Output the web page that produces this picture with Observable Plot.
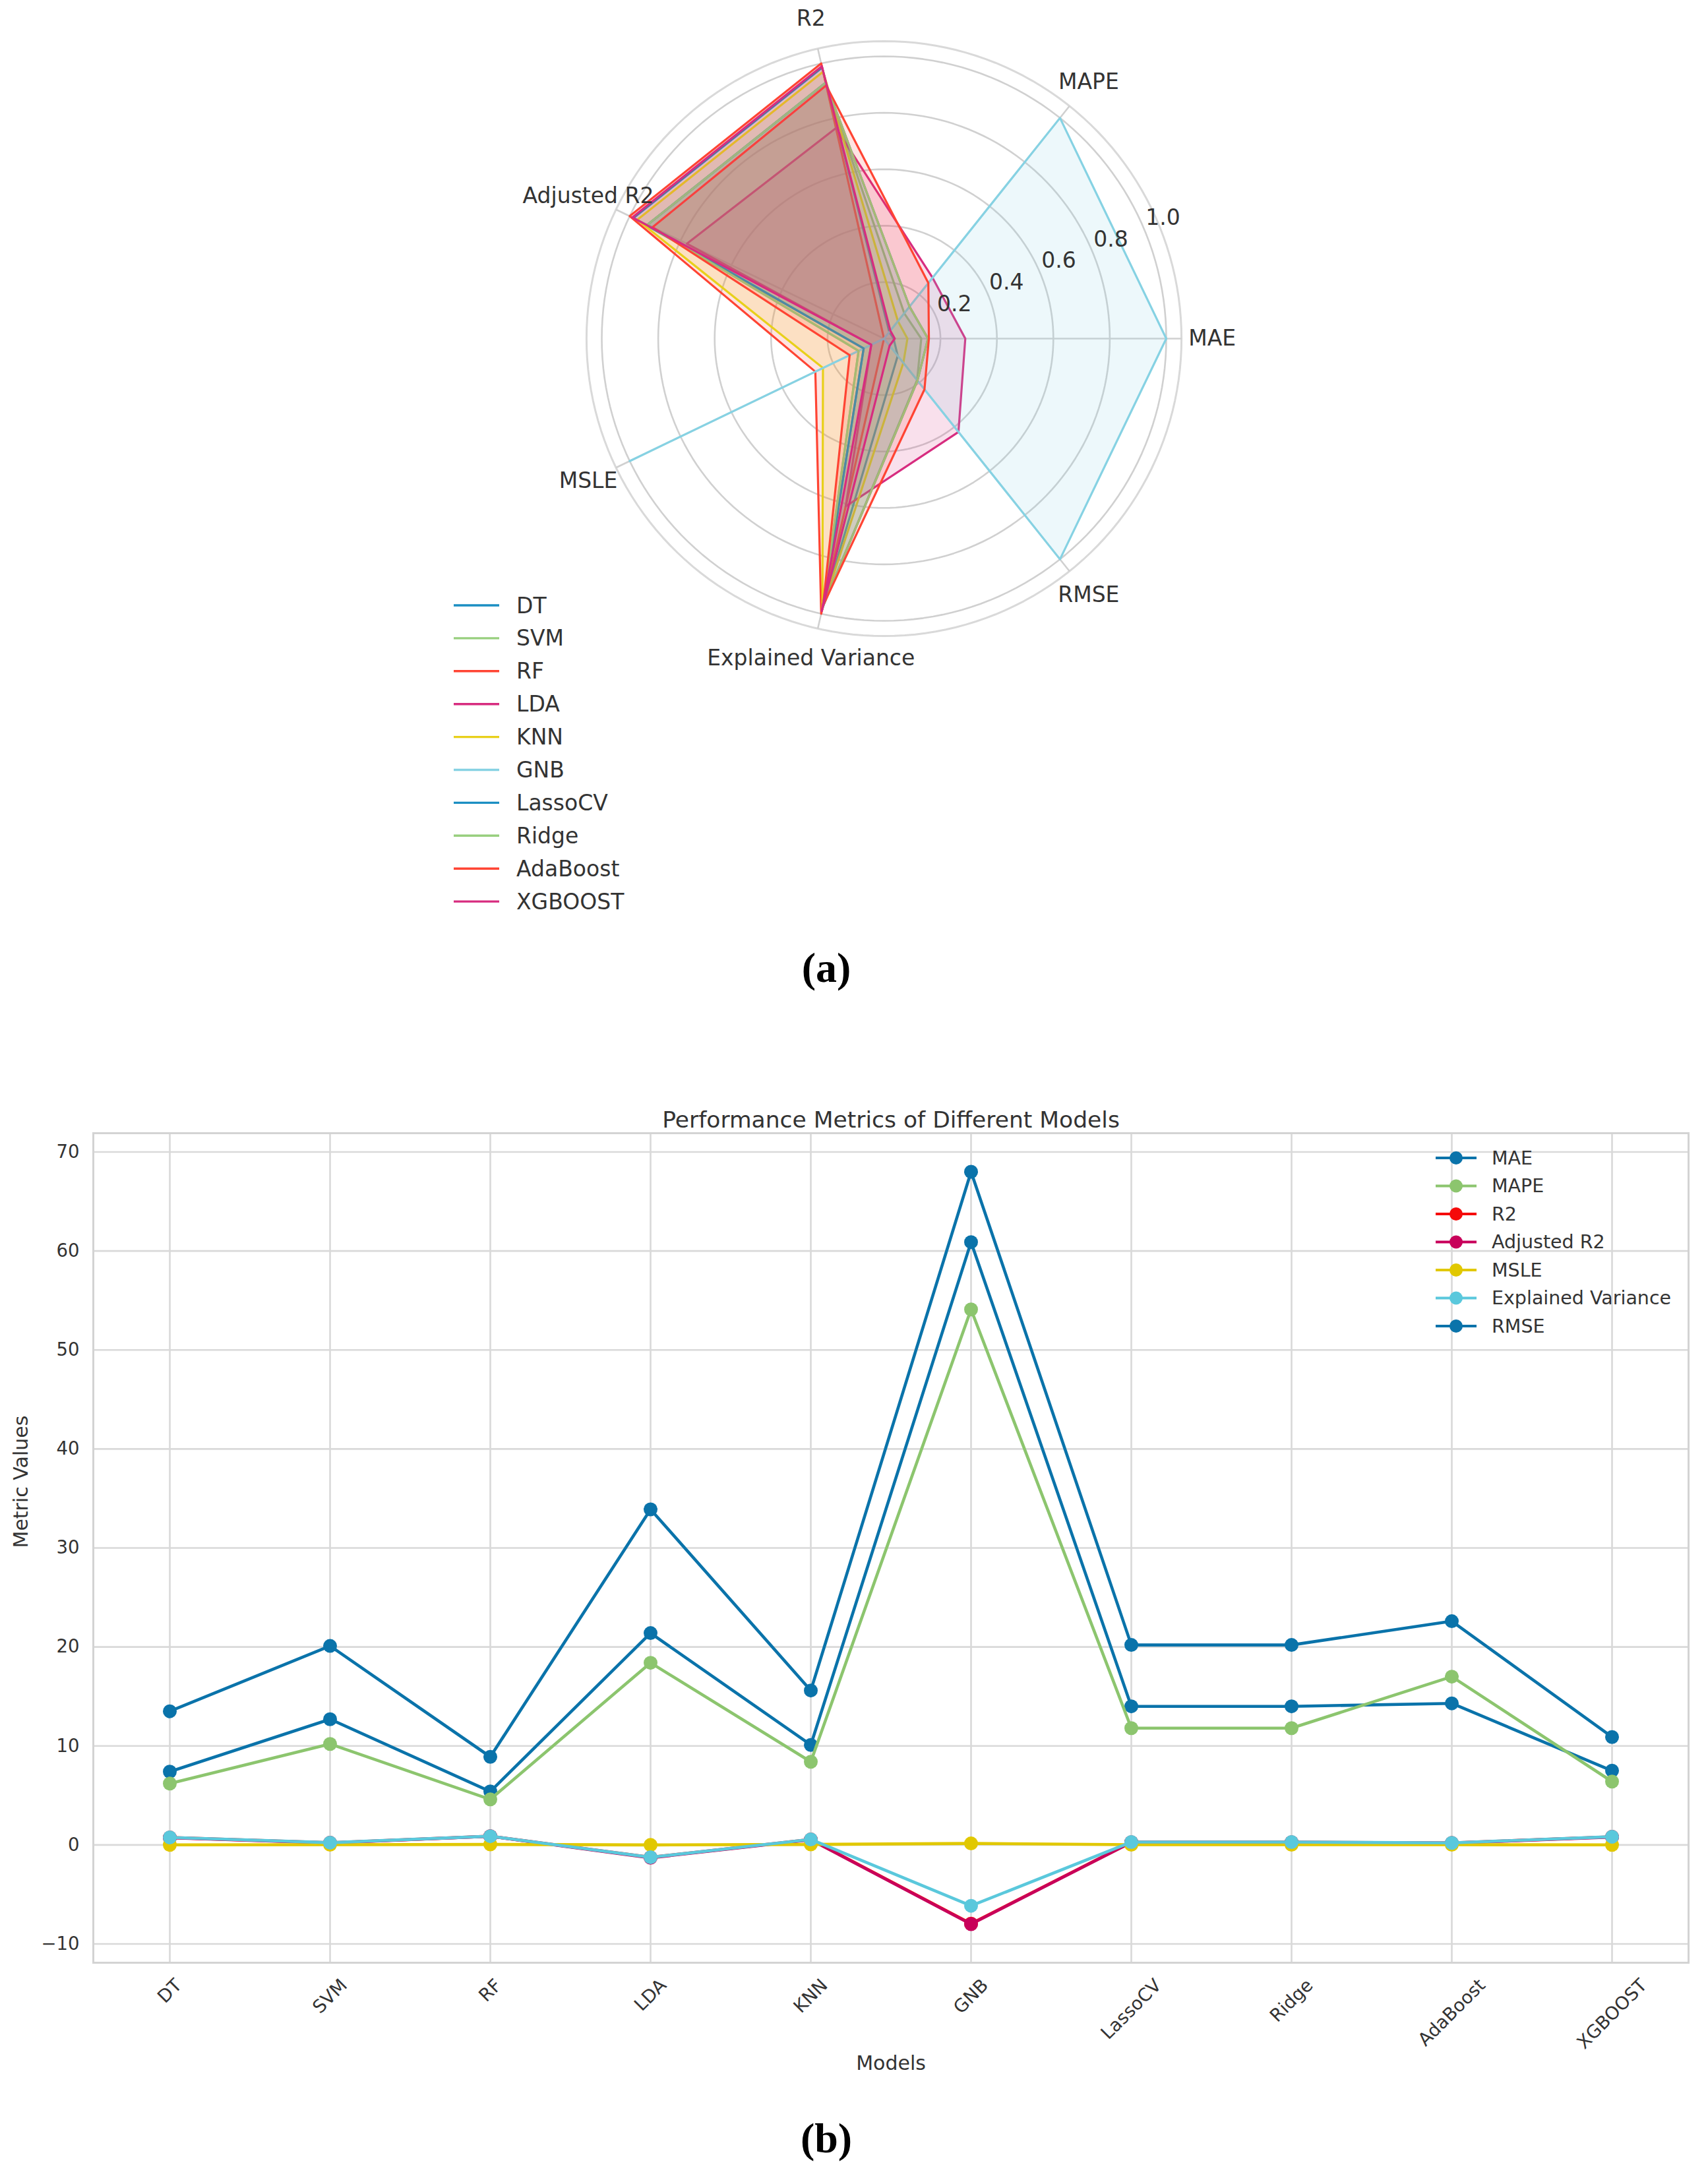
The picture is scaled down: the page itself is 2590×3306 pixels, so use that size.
<!DOCTYPE html>
<html><head><meta charset="utf-8">
<script src="https://cdn.jsdelivr.net/npm/d3@7"></script>
<script src="https://cdn.jsdelivr.net/npm/@observablehq/plot@0.6"></script>
<style>
body{margin:0;background:#fff;}
#page{position:relative;width:2590px;height:3306px;overflow:hidden;background:#fff;font-family:"DejaVu Sans",sans-serif;}
#page svg{position:absolute;left:0;}
.tag{position:absolute;font-family:"Liberation Serif","Times New Roman",serif;font-weight:bold;font-size:64px;color:#000;transform:translate(-50%,-50%);line-height:1;}
</style></head><body><div id="page"></div>
<script>
// ---------- data ----------
const models = ["DT","SVM","RF","LDA","KNN","GNB","LassoCV","Ridge","AdaBoost","XGBOOST"];
const metrics = ["MAE","MAPE","R2","Adjusted R2","MSLE","Explained Variance","RMSE"];

// (a) radar: normalised metric values per model
const radarMAE   = [0.034, 0.132, 0.000, 0.288, 0.083, 1.000, 0.156, 0.156, 0.159, 0.038];
const radarMAPE  = [0.030, 0.115, 0.000, 0.276, 0.079, 1.000, 0.145, 0.145, 0.252, 0.036];
const radarR2    = [0.985, 0.930, 1.000, 0.765, 0.970, 0.000, 0.930, 0.930, 0.920, 0.990];
const radarAdjR2 = [0.985, 0.930, 1.000, 0.775, 0.970, 0.000, 0.930, 0.930, 0.910, 0.990];
const radarMSLE  = [0.080, 0.100, 0.270, 0.050, 0.240, 1.000, 0.080, 0.100, 0.135, 0.050];
const radarEV    = [0.985, 0.975, 1.000, 0.610, 0.980, 0.000, 0.975, 0.975, 0.970, 0.990];
const radarRMSE  = [0.078, 0.188, 0.000, 0.423, 0.110, 1.000, 0.190, 0.190, 0.230, 0.032];
const radarTicks = [0.2, 0.4, 0.6, 0.8, 1.0];
const radarColors = ["#1b8ec2","#98cf7e","#ff4433","#d72c7f","#e8d01a","#86d2e3","#1b8ec2","#98cf7e","#ff4433","#d72c7f"];

// (b) line chart: raw metric values per model
const mae   = [7.4, 12.7, 5.4, 21.4, 10.1, 60.9, 14.0, 14.0, 14.3, 7.5];
const mape  = [6.2, 10.2, 4.6, 18.4, 8.4, 54.1, 11.8, 11.8, 17.0, 6.4];
const r2    = [0.75, 0.22, 0.88, -1.25, 0.55, -7.95, 0.28, 0.28, 0.20, 0.82];
const adjR2 = [0.72, 0.20, 0.87, -1.30, 0.52, -8.00, 0.26, 0.26, 0.18, 0.80];
const msle  = [0.01, 0.02, 0.05, 0.00, 0.05, 0.15, 0.02, 0.02, 0.02, 0.01];
const ev    = [0.76, 0.23, 0.88, -1.25, 0.56, -6.15, 0.29, 0.29, 0.21, 0.83];
const rmse  = [13.5, 20.1, 8.9, 33.9, 15.6, 68.0, 20.2, 20.2, 22.6, 10.9];
const yTicks = [-10, 0, 10, 20, 30, 40, 50, 60, 70];
const lineColors = ["#0a73aa","#8cc56e","#f50a0a","#c8005a","#e1c800","#5ac8dc","#0a73aa"];

const page = document.getElementById("page");
const TEXT = "#333";

// ---------- (a) radar ----------
const TAU = 2 * Math.PI;
const angleOf = i => i * TAU / metrics.length;
const RMAX = 1.054;
const px = (r, a) => r * Math.cos(a);
const py = (r, a) => r * Math.sin(a);
const radarCols = [radarMAE, radarMAPE, radarR2, radarAdjR2, radarMSLE, radarEV, radarRMSE];
const ringRows = radarTicks.flatMap(v => d3.range(0, 360, 2).map(deg => ({v, a: deg * Math.PI / 180})));
const outerRows = d3.range(0, 360, 2).map(deg => ({v: RMAX, a: deg * Math.PI / 180}));
const spokeRows = metrics.map((m, i) => ({m, a: angleOf(i)}));
const RLAB = 22.5 * Math.PI / 180;

const polyMarks = models.map((m, mi) => Plot.line(
  metrics.map((k, ki) => ({a: angleOf(ki), r: radarCols[ki][mi]})),
  {x: d => px(d.r, d.a), y: d => py(d.r, d.a), curve: "linear-closed",
   stroke: radarColors[mi], strokeWidth: 3.2, fill: radarColors[mi], fillOpacity: 0.15,
   strokeLinejoin: "round"}));

const radar = Plot.plot({
  width: 2590, height: 1420,
  marginTop: 0, marginBottom: 0, marginLeft: 0, marginRight: 0,
  x: {domain: [-1, 1], range: [1340 - 428, 1340 + 428], axis: null},
  y: {domain: [-1, 1], range: [513 + 428, 513 - 428], axis: null},
  style: {fontFamily: "DejaVu Sans", background: "transparent", color: TEXT, overflow: "visible"},
  marks: [
    Plot.line(outerRows, {x: d => px(d.v, d.a), y: d => py(d.v, d.a), curve: "linear-closed", stroke: "#d9d9d9", strokeWidth: 3}),
    Plot.line(ringRows, {x: d => px(d.v, d.a), y: d => py(d.v, d.a), z: "v", curve: "linear-closed", stroke: "#d0d0d0", strokeWidth: 2.6}),
    Plot.link(spokeRows, {x1: 0, y1: 0, x2: d => px(RMAX, d.a), y2: d => py(RMAX, d.a), stroke: "#d0d0d0", strokeWidth: 2.6}),
    ...polyMarks,
    Plot.text(radarTicks, {x: d => px(d + 0.07, RLAB), y: d => py(d + 0.07, RLAB), dy: -8, text: d => d.toFixed(1),
      fontSize: 33, fill: TEXT, textAnchor: "middle", lineAnchor: "middle"}),
    Plot.text(spokeRows, {x: d => px(1.163, d.a), y: d => py(1.163, d.a), text: "m",
      fontSize: 33, fill: TEXT, textAnchor: "middle", lineAnchor: "middle"})
  ]
});
radar.style.top = "0px";
page.appendChild(radar);

// radar legend
{
  const g = d3.select(radar).append("g").attr("text-anchor", "start");
  models.forEach((m, i) => {
    const y = 918 + i * 49.9;
    g.append("line").attr("x1", 688).attr("x2", 757).attr("y1", y).attr("y2", y)
      .attr("stroke", radarColors[i]).attr("stroke-width", 3.4);
    g.append("text").attr("x", 783).attr("y", y).attr("dy", "0.35em").attr("text-anchor", "start")
      .attr("font-size", 33).attr("fill", TEXT).attr("font-family", "DejaVu Sans").text(m);
  });
}

// ---------- (b) line chart ----------
const FS = 27.5;
const ctx = document.createElement("canvas").getContext("2d");
ctx.font = `${FS}px "DejaVu Sans"`;
const series = [["MAE", mae], ["MAPE", mape], ["R2", r2], ["Adjusted R2", adjR2], ["MSLE", msle], ["Explained Variance", ev], ["RMSE", rmse]];

const seriesMarks = series.flatMap(([name, vals], si) => {
  const rows = models.map((m, i) => ({model: m, value: vals[i]}));
  return [
    Plot.line(rows, {x: "model", y: "value", stroke: lineColors[si], strokeWidth: 4.6, strokeLinejoin: "round"}),
    Plot.dot(rows, {x: "model", y: "value", fill: lineColors[si], r: 10.5, stroke: "none"})
  ];
});
const xLabelMarks = models.map(m => {
  const w = ctx.measureText(m).width;
  return Plot.text([m], {x: d => d, frameAnchor: "bottom", dy: 20 + (w + FS) * 0.3536,
    rotate: -45, fontSize: FS, fill: TEXT, textAnchor: "middle", lineAnchor: "middle"});
});

const LT = 1640;
const chart = Plot.plot({
  width: 2590, height: 1666,
  marginTop: 78, marginLeft: 141, marginRight: 30, marginBottom: 330,
  x: {type: "point", domain: models, padding: 0.457, axis: null},
  y: {domain: [-11.9, 71.9]},
  style: {fontFamily: "DejaVu Sans", background: "transparent", color: TEXT, overflow: "visible"},
  marks: [
    Plot.gridY(yTicks, {stroke: "#d9d9d9", strokeWidth: 2.6, strokeOpacity: 1}),
    Plot.gridX(models, {stroke: "#d9d9d9", strokeWidth: 2.6, strokeOpacity: 1}),
    Plot.frame({stroke: "#d3d3d3", strokeWidth: 3}),
    Plot.axisY(yTicks, {tickSize: 0, tickPadding: 21, fontSize: FS, label: null}),
    ...seriesMarks,
    ...xLabelMarks,
    Plot.text(["Performance Metrics of Different Models"], {frameAnchor: "top", dy: -33, fontSize: 34.5, fill: TEXT}),
    Plot.text(["Metric Values"], {frameAnchor: "left", dx: -109, rotate: -90, fontSize: 30, fill: TEXT}),
    Plot.text(["Models"], {frameAnchor: "bottom", dy: 162, fontSize: 30, fill: TEXT})
  ]
});
chart.style.top = LT + "px";
page.appendChild(chart);

// line-chart legend
{
  const g = d3.select(chart).append("g").attr("text-anchor", "start");
  series.forEach(([name], i) => {
    const y = 116 + i * 42.5;
    g.append("line").attr("x1", 2177).attr("x2", 2239).attr("y1", y).attr("y2", y)
      .attr("stroke", lineColors[i]).attr("stroke-width", 4.2);
    g.append("circle").attr("cx", 2208).attr("cy", y).attr("r", 10).attr("fill", lineColors[i]);
    g.append("text").attr("x", 2262).attr("y", y).attr("dy", "0.35em").attr("text-anchor", "start")
      .attr("font-size", 28.5).attr("fill", TEXT).attr("font-family", "DejaVu Sans").text(name);
  });
}

// panel tags
for (const [t, x, y] of [["(a)", 1253, 1468], ["(b)", 1253, 3243]]) {
  const d = document.createElement("div");
  d.className = "tag"; d.textContent = t;
  d.style.left = x + "px"; d.style.top = y + "px";
  page.appendChild(d);
}
</script></body></html>
